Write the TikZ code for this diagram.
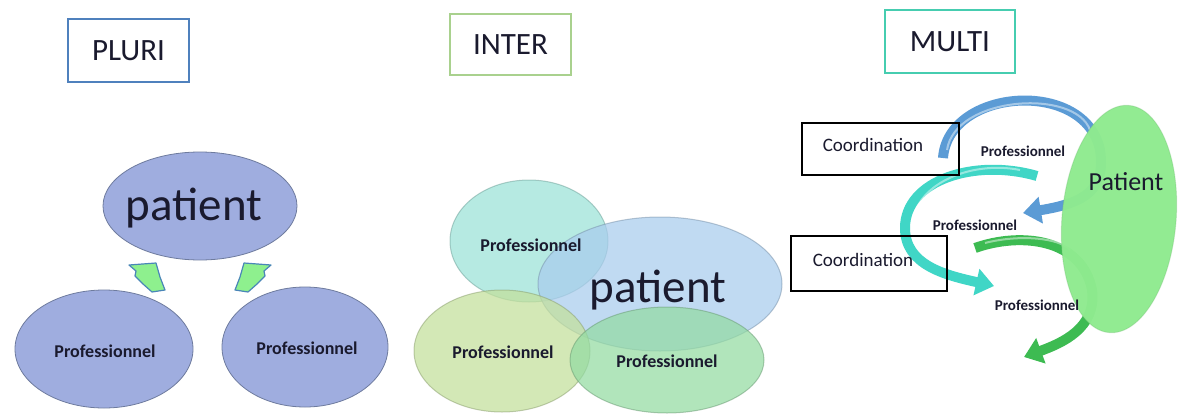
\documentclass[tikz,border=0pt]{standalone}
\usepackage{fontspec}
\setmainfont{Carlito}
\usetikzlibrary{arrows.meta,shapes.geometric}
\definecolor{pluribox}{HTML}{4F81BD}
\definecolor{interbox}{HTML}{A9D18E}
\definecolor{multibox}{HTML}{46CDB0}
\definecolor{lav}{HTML}{9FADDF}
\definecolor{lavedge}{HTML}{6E7B9E}
\definecolor{pgreen}{HTML}{8EF08E}
\definecolor{pgreenedge}{HTML}{4A86B8}
\definecolor{icyan}{HTML}{9BE3D8}
\definecolor{iblue}{HTML}{A9CCEE}
\definecolor{iyg}{HTML}{C3E09A}
\definecolor{igreen}{HTML}{93DBA2}
\definecolor{mpat}{HTML}{8FEB8F}
\definecolor{ablue}{HTML}{5B9BD5}
\definecolor{ateal}{HTML}{40D6C6}
\definecolor{agreen}{HTML}{3DBB52}
\definecolor{txt}{HTML}{1A1A2E}
\tikzset{
  titlebox/.style={draw=#1, line width=1.2pt, minimum width=121pt, minimum height=63pt, inner sep=0pt, font=\fontsize{31}{34}\selectfont, text=txt},
  pluriell/.style={ellipse, draw=lavedge, fill=lav, line width=0.8pt, inner sep=0pt},
  interell/.style={ellipse, draw=#1!70!black, fill=#1, fill opacity=0.72, draw opacity=0.5, line width=1pt, inner sep=0pt},
  pro/.style={font=\bfseries\fontsize{18}{20}\selectfont, text=txt},
  smallpro/.style={font=\bfseries\fontsize{15}{17}\selectfont, text=txt},
  bigpat/.style={font=\fontsize{47}{50}\selectfont, text=txt},
  coordbox/.style={draw=black, line width=1.2pt, inner sep=0pt},
  coordtxt/.style={font=\fontsize{19}{21}\selectfont, text=txt},
  blockarrow/.style={fill=pgreen, draw=pgreenedge, line width=1.2pt, line join=round},
  arc/.style={line width=10pt, draw=#1, -{Triangle[width=26pt,length=18pt]}},
  arcshine/.style={line width=2pt, draw=white, opacity=0.45},
}
\begin{document}
\begin{tikzpicture}[x=1pt,y=-1pt]
\useasboundingbox (0,0) rectangle (1178,415);
\fill[white] (0,0) rectangle (1178,415);

% ---------- PLURI ----------
\node[titlebox=pluribox, minimum width=121pt, minimum height=63pt] (pluri) at (128.5,50.5) {PLURI};
\node[pluriell, minimum width=194pt, minimum height=108pt] (ppat) at (200,206) {};
\node[bigpat] (ppattxt) at (194,208) {patient};
\node[pluriell, minimum width=178pt, minimum height=118pt] (ppro1) at (104,349) {};
\node[pro] (ppro1txt) at (105,351) {Professionnel};
\node[pluriell, minimum width=166pt, minimum height=120pt] (ppro2) at (305,347) {};
\node[pro] (ppro2txt) at (307,348) {Professionnel};
\draw[blockarrow] (129,265) -- (156,263) -- (160,277) -- (165,290) -- (152,292) -- (143,284) -- (135,276) -- (136,271) -- cycle;
\draw[blockarrow] (271,265) -- (244,263) -- (240,277) -- (235,290) -- (248,292) -- (257,284) -- (265,276) -- (264,271) -- cycle;

% ---------- INTER ----------
\node[titlebox=interbox, minimum width=121pt, minimum height=61pt] (inter) at (510.5,44.5) {INTER};
\node[interell=icyan, minimum width=158pt, minimum height=122pt] (ipro1) at (529,241) {};
\node[interell=iblue, minimum width=244pt, minimum height=134pt] (ipat) at (660,284) {};
\node[interell=iyg, minimum width=176pt, minimum height=122pt] (ipro2) at (502,351) {};
\node[interell=igreen, minimum width=194pt, minimum height=106pt] (ipro3) at (667,360) {};
\node[pro] (ipro1txt) at (531,245) {Professionnel};
\node[bigpat] (ipattxt) at (658,290) {patient};
\node[pro] (ipro2txt) at (503,352) {Professionnel};
\node[pro] (ipro3txt) at (667,361) {Professionnel};

% ---------- MULTI ----------
\node[titlebox=multibox, minimum width=130pt, minimum height=63pt] (multi) at (950,41.5) {MULTI};
% curved arrows
\coordinate (b0) at (943,158);
\coordinate (b1) at (1023,213);
\draw[arc=ablue] (b0) .. controls (948,88) and (1085,78) .. (1100,150)
   .. controls (1106,190) and (1085,203) .. (b1);
\draw[arcshine] (947,150) .. controls (955,96) and (1075,88) .. (1090,130);
\coordinate (t0) at (1037,176);
\coordinate (t1) at (994,286);
\draw[arc=ateal] (t0) .. controls (975,158) and (905,180) .. (905,228)
   .. controls (905,265) and (945,275) .. (t1);
\draw[arcshine] (1020,170) .. controls (970,160) and (912,185) .. (912,228) .. controls (912,258) and (940,268) .. (975,275);
\coordinate (g0) at (975,248);
\coordinate (g1) at (1024,357);
\draw[arc=agreen] (g0) .. controls (1020,232) and (1082,238) .. (1092,290)
   .. controls (1097,328) and (1062,343) .. (g1);
\draw[arcshine] (985,243) .. controls (1020,234) and (1060,238) .. (1070,250);
% patient ellipse
\node[ellipse, fill=mpat, fill opacity=0.97, draw=mpat!80!black, draw opacity=0.3, line width=1pt,
      minimum width=114pt, minimum height=228pt, inner sep=0pt, rotate=-5] (mpatient) at (1119,219) {};
\node[font=\fontsize{26}{28}\selectfont, text=txt] (mpattxt) at (1126,182) {Patient};
% coordination boxes
\draw[coordbox] (802,123) rectangle (959,175);
\node[coordtxt] (coord1) at (873,145) {Coordination};
\draw[coordbox] (791,236) rectangle (947,291);
\node[coordtxt] (coord2) at (863,260) {Coordination};
% professionnel labels
\node[smallpro] (mpro1) at (1023,151) {Professionnel};
\node[smallpro] (mpro2) at (975,225) {Professionnel};
\node[smallpro] (mpro3) at (1037,305) {Professionnel};
\end{tikzpicture}
\end{document}
